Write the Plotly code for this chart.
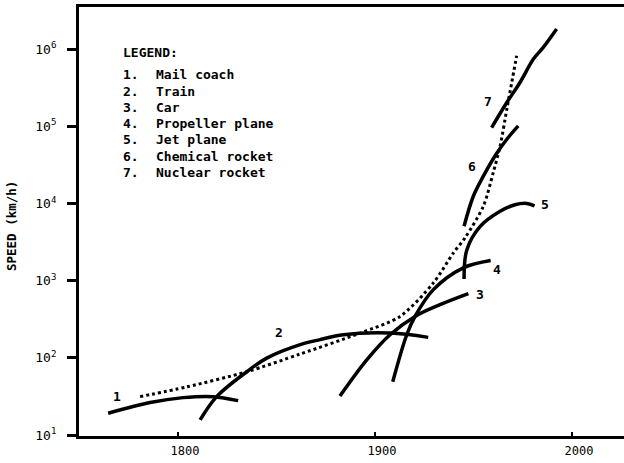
import math
import plotly.graph_objects as go

# ---- data (year, speed km/h) ----
mail_years = [1764.5, 1785.8, 1802.5, 1817.8, 1830.5]
mail_speed = [19.1, 26.3, 30.5, 31.4, 27.9]

train_years = [1811.2, 1819.6, 1834.9, 1845.0, 1862.0, 1872.1, 1883.9, 1907.6, 1927.0]
train_speed = [15.7, 31.4, 66, 99, 148, 172, 199, 209, 184]

car_years = [1882.2, 1895.8, 1907.6, 1920.3, 1933.0, 1947.4]
car_speed = [32, 94, 199, 344, 488, 678]

prop_years = [1909.0, 1916.1, 1920.3, 1929.6, 1944.8, 1958.7]
prop_speed = [49, 199, 344, 764, 1463, 1820]

jet_years = [1945.2, 1946.6, 1953.3, 1963.5, 1971.0, 1977.0, 1981.0]
jet_speed = [1050, 2500, 5000, 7900, 9600, 10000, 9300]

chem_years = [1945.2, 1949.9, 1955.0, 1960.9, 1966.9, 1972.7]
chem_speed = [5070, 12400, 22600, 41200, 67800, 101000]

nuc_years = [1959.2, 1966.9, 1973.6, 1980.4, 1985.4, 1992.2]
nuc_speed = [96100, 203000, 369000, 741000, 1050000, 1820000]

trend_years = [1780.7, 1804.4, 1834.9, 1862.0, 1892.4, 1912.7, 1929.6,
               1939.8, 1945.7, 1955.0, 1960.0, 1963.5, 1966.9, 1969.4, 1971.9]
trend_speed = [31.4, 42, 66, 112, 209, 344, 933,
               2290, 3590, 9230, 25100, 55400, 166000, 369000, 819000]

legend_items = ["Mail coach", "Train", "Car", "Propeller plane",
                "Jet plane", "Chemical rocket", "Nuclear rocket"]

curve_labels = ["1", "2", "3", "4", "5", "6", "7"]

x_ticks = [1800, 1900, 2000]
y_tickvals = [10, 100, 1000, 10000, 100000, 1000000]
y_ticktext = ["10<sup>%d</sup>" % e for e in range(1, 7)]

FONT = "DejaVu Sans Mono"

fig = go.Figure()
series = [(mail_years, mail_speed), (train_years, train_speed), (car_years, car_speed),
          (prop_years, prop_speed), (jet_years, jet_speed), (chem_years, chem_speed),
          (nuc_years, nuc_speed)]
for xs, ys in series:
    fig.add_trace(go.Scatter(x=xs, y=ys, mode="lines",
                             line=dict(color="black", width=3.5, shape="spline"),
                             showlegend=False, hoverinfo="skip"))
fig.add_trace(go.Scatter(x=trend_years, y=trend_speed, mode="lines",
                         line=dict(color="black", width=3, shape="spline", smoothing=0.8,
                                   dash="3px,3px"),
                         showlegend=False, hoverinfo="skip"))

# curve number label positions (year, speed)
label_pos = [(1769, 32), (1851.3, 210), (1953.3, 660), (1962, 1380),
             (1986.3, 9700), (1949, 30000), (1957.4, 210000)]
for t, (lx, ly) in zip(curve_labels, label_pos):
    fig.add_annotation(x=lx, y=math.log10(ly), xref="x", yref="y", text="<b>%s</b>" % t,
                       xanchor="center", yanchor="middle", showarrow=False,
                       font=dict(family=FONT, size=13, color="black"))

# legend text placed in pixel-derived paper coords
L, B, W, H = 79, 436, 545, 429
def px(xp):
    return (xp - L) / W
def py(yp):
    return (B - yp) / H

fig.add_annotation(xref="paper", yref="paper", x=px(121), y=py(52), xanchor="left",
                   yanchor="middle", text="<b>LEGEND:</b>", showarrow=False,
                   font=dict(family=FONT, size=13, color="black"))
for i, name in enumerate(legend_items):
    yy = py(75 + i * 16.2)
    fig.add_annotation(xref="paper", yref="paper", x=px(121), y=yy, xanchor="left",
                       yanchor="middle", text="<b>%d.</b>" % (i + 1), showarrow=False,
                       font=dict(family=FONT, size=13, color="black"))
    fig.add_annotation(xref="paper", yref="paper", x=px(154), y=yy, xanchor="left",
                       yanchor="middle", text="<b>%s</b>" % name, showarrow=False,
                       font=dict(family=FONT, size=13, color="black"))

fig.add_annotation(xref="paper", yref="paper", x=px(12), y=py(226), textangle=-90,
                   xanchor="center", yanchor="middle",
                   text="<b>SPEED (km/h)</b>", showarrow=False,
                   font=dict(family=FONT, size=12.5, color="black"))

fig.update_layout(
    width=624, height=463,
    margin=dict(l=79, r=0, t=7, b=27),
    paper_bgcolor="white", plot_bgcolor="white",
    xaxis=dict(range=[1749.7, 2026.4], tickvals=x_ticks, showgrid=False, zeroline=False,
               showline=True, linecolor="black", linewidth=3, mirror=True,
               ticks="inside", ticklen=4, tickwidth=2, tickcolor="black",
               ticklabelshift=7, ticklabelstandoff=2,
               tickfont=dict(family=FONT, size=12, color="black")),
    yaxis=dict(type="log", range=[0.987, 6.545], tickvals=y_tickvals, ticktext=y_ticktext,
               showgrid=False, zeroline=False, showline=True, linecolor="black", linewidth=3,
               ticks="outside", ticklen=9, tickwidth=3, tickcolor="black",
               ticklabelstandoff=8,
               tickfont=dict(family=FONT, size=13, color="black")),
)

fig.write_html("out.html", config={"displayModeBar": False})
with open("out.html", "r", encoding="utf-8") as f:
    html = f.read()
html = html.replace("<body>", '<body style="margin:0;padding:0;">', 1)
with open("out.html", "w", encoding="utf-8") as f:
    f.write(html)
